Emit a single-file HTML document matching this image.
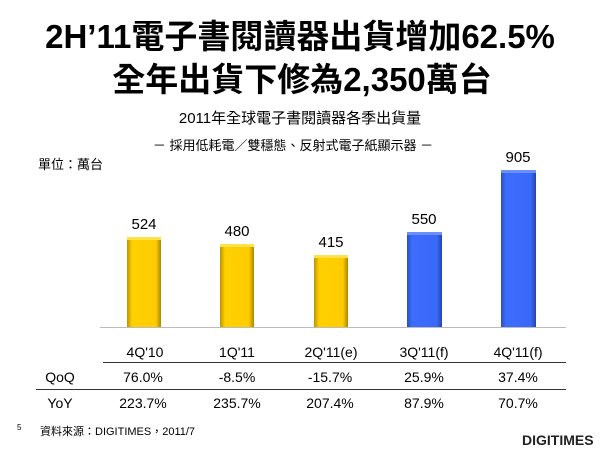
<!DOCTYPE html>
<html><head><meta charset="utf-8"><style>
body{margin:0;width:600px;height:450px;background:#fff;position:relative;overflow:hidden;font-family:"Liberation Sans","Noto Sans CJK TC",sans-serif;color:#000}
.a{position:absolute;white-space:nowrap}
.c{transform:translateX(-50%)}
.bar{position:absolute;box-sizing:border-box}
.y{background:linear-gradient(90deg,#b89400,#ffd000 15%,#ffcc00 85%,#a88800);border-top:3px solid #ffe24a}
.b{background:linear-gradient(90deg,#2a50c0,#3d6dff 15%,#3a68f8 85%,#2545a8);border-top:3px solid #6a8fff}
.n{font-size:15px}
.t{font-size:14px}
</style></head><body>
<div class="a c" style="left:300px;top:10px;font-size:33px;font-weight:bold">2H’11電子書閱讀器出貨增加62.5%</div>
<div class="a c" style="left:302px;top:53px;font-size:33px;font-weight:bold">全年出貨下修為2,350萬台</div>
<div class="a c" style="left:300px;top:107px;font-size:15px">2011年全球電子書閱讀器各季出貨量</div>
<div class="a c" style="left:293px;top:135px;font-size:13px">－ 採用低耗電／雙穩態、反射式電子紙顯示器 －</div>
<div class="a" style="left:38px;top:154px;font-size:13px">單位：萬台</div>

<div class="bar y" style="left:127px;top:237px;width:34px;height:91px"></div>
<div class="bar y" style="left:220px;top:244px;width:34px;height:84px"></div>
<div class="bar y" style="left:314px;top:255px;width:34px;height:73px"></div>
<div class="bar b" style="left:407px;top:232px;width:35px;height:96px"></div>
<div class="bar b" style="left:501px;top:170px;width:35px;height:158px"></div>
<div class="a" style="left:100px;top:327px;width:466px;height:1px;background:#bbb"></div>

<div class="a c n" style="left:144px;top:216px">524</div>
<div class="a c n" style="left:237px;top:223px">480</div>
<div class="a c n" style="left:331px;top:234px">415</div>
<div class="a c n" style="left:424px;top:211px">550</div>
<div class="a c n" style="left:518px;top:149px">905</div>

<div class="a c t" style="left:145px;top:344px">4Q'10</div>
<div class="a c t" style="left:237px;top:344px">1Q'11</div>
<div class="a c t" style="left:331px;top:344px">2Q'11(e)</div>
<div class="a c t" style="left:424px;top:344px">3Q'11(f)</div>
<div class="a c t" style="left:518px;top:344px">4Q'11(f)</div>
<div class="a" style="left:103px;top:362px;width:463px;height:1px;background:#333"></div>
<div class="a c t" style="left:60px;top:369px">QoQ</div>
<div class="a c t" style="left:143px;top:369px">76.0%</div>
<div class="a c t" style="left:237px;top:369px">-8.5%</div>
<div class="a c t" style="left:330px;top:369px">-15.7%</div>
<div class="a c t" style="left:424px;top:369px">25.9%</div>
<div class="a c t" style="left:518px;top:369px">37.4%</div>
<div class="a" style="left:36px;top:389px;width:530px;height:1px;background:#333"></div>
<div class="a c t" style="left:60px;top:395px">YoY</div>
<div class="a c t" style="left:143px;top:395px">223.7%</div>
<div class="a c t" style="left:237px;top:395px">235.7%</div>
<div class="a c t" style="left:330px;top:395px">207.4%</div>
<div class="a c t" style="left:424px;top:395px">87.9%</div>
<div class="a c t" style="left:518px;top:395px">70.7%</div>

<div class="a" style="left:17px;top:423px;font-size:8px">5</div>
<div class="a" style="left:40px;top:423px;font-size:11px">資料來源：DIGITIMES，2011/7</div>
<div class="a" style="left:522px;top:432px;font-size:14px;font-weight:bold;letter-spacing:0px;color:#222">DIGITIMES</div>
</body></html>
